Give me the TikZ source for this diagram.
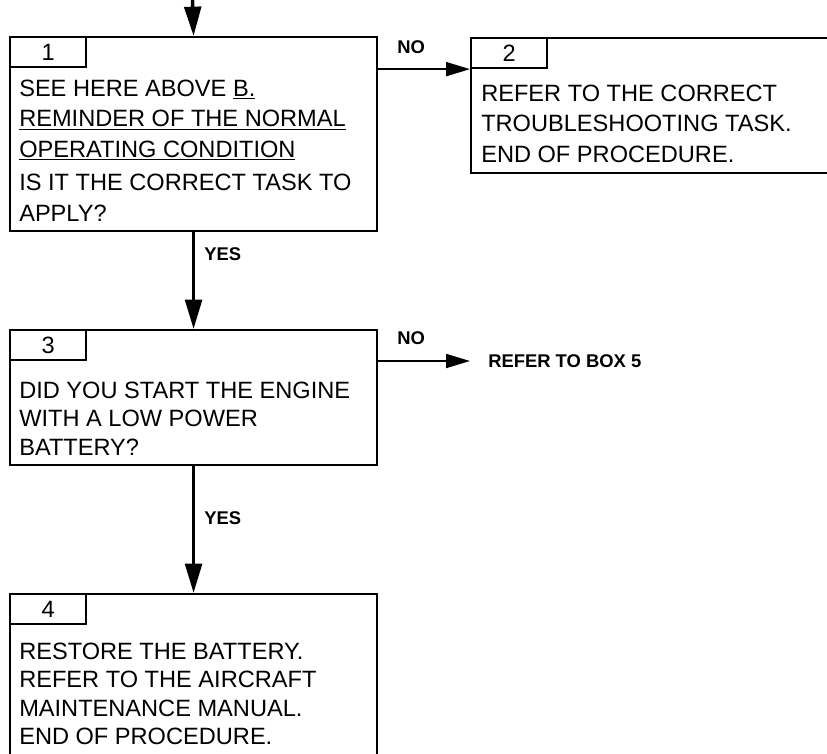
\documentclass[tikz,border=0pt]{standalone}
\usepackage{fontspec}
\setmainfont{Liberation Sans}
\usetikzlibrary{arrows.meta,positioning}
\tikzset{
  box/.style={draw, line width=1.6pt, minimum width=275.25pt, minimum height=101.25pt, inner sep=0pt},
  tab/.style={draw, line width=1.6pt, minimum width=57pt, minimum height=22.5pt, inner sep=0pt,
              font=\fontsize{17.7}{20}\selectfont},
  body/.style={align=left, inner sep=0pt, font=\fontsize{17.7}{22.9}\selectfont},
  bodyn/.style={body, font=\fontsize{17.7}{21.3}\selectfont},
  lbl/.style={inner sep=0pt, font=\fontsize{13.8}{16}\selectfont\bfseries},
  vert/.style={-{Triangle[length=22pt,width=12.5pt]}, line width=2.6pt},
  noarr/.style={-{Triangle[length=18pt,width=10.5pt]}, line width=1.5pt},
}
\begin{document}
\begin{tikzpicture}[x=0.75pt, y=-0.75pt]
  \useasboundingbox (0,0) rectangle (827,753);
  \clip (0,0) rectangle (827,753);
  % boxes
  \node[box, minimum height=145.5pt, anchor=north west] (box1) at (9,36) {};
  \node[box, minimum width=322.5pt, anchor=north west] (box2) at (470,37) {};
  \node[box, anchor=north west] (box3) at (9,329) {};
  \node[box, minimum height=155.25pt, anchor=north west] (box4) at (9,593) {};
  % number tabs
  \node[tab, anchor=north west] (tab1) at (box1.north west) {1};
  \node[tab, anchor=north west] (tab2) at (box2.north west) {2};
  \node[tab, anchor=north west] (tab3) at (box3.north west) {3};
  \node[tab, anchor=north west] (tab4) at (box4.north west) {4};
  % texts
  \node[body, below right=32.7pt and 7.5pt of box1.north west] (txt1)
    {SEE HERE ABOVE \underline{B.}\\ \underline{REMINDER OF THE NORMAL}\\
     \underline{OPERATING CONDITION}\\[2pt] IS IT THE CORRECT TASK TO\\ APPLY?};
  \node[body, below right=35.7pt and 8.25pt of box2.north west] (txt2)
    {REFER TO THE CORRECT\\ TROUBLESHOOTING TASK.\\ END OF PROCEDURE.};
  \node[bodyn, below right=39.5pt and 7.5pt of box3.north west] (txt3)
    {DID YOU START THE ENGINE\\ WITH A LOW POWER\\ BATTERY?};
  \node[bodyn, below right=37.2pt and 7.5pt of box4.north west] (txt4)
    {RESTORE THE BATTERY.\\ REFER TO THE AIRCRAFT\\ MAINTENANCE MANUAL.\\ END OF PROCEDURE.};
  % connectors
  \coordinate (entry) at (192.5,0);
  \draw[vert] (entry) -- (box1.north);
  \draw[vert] (box1.south) -- node[lbl, right=6.75pt, pos=0.23] (yes1) {YES} (box3.north);
  \draw[vert] (box3.south) -- node[lbl, right=6.75pt, pos=0.41] (yes2) {YES} (box4.north);
  \draw[noarr] (box1.east |- tab2.south) -- node[lbl, above=10.8pt, pos=0.36] (no1) {NO} (box2.west |- tab2.south);
  \node[lbl, inner xsep=13.5pt, anchor=west] (ref5) at (470,361) {REFER TO BOX 5};
  \draw[noarr] (box3.east |- ref5.west) -- node[lbl, above=11.5pt, pos=0.36] (no2) {NO} (ref5.west);
\end{tikzpicture}
\end{document}
